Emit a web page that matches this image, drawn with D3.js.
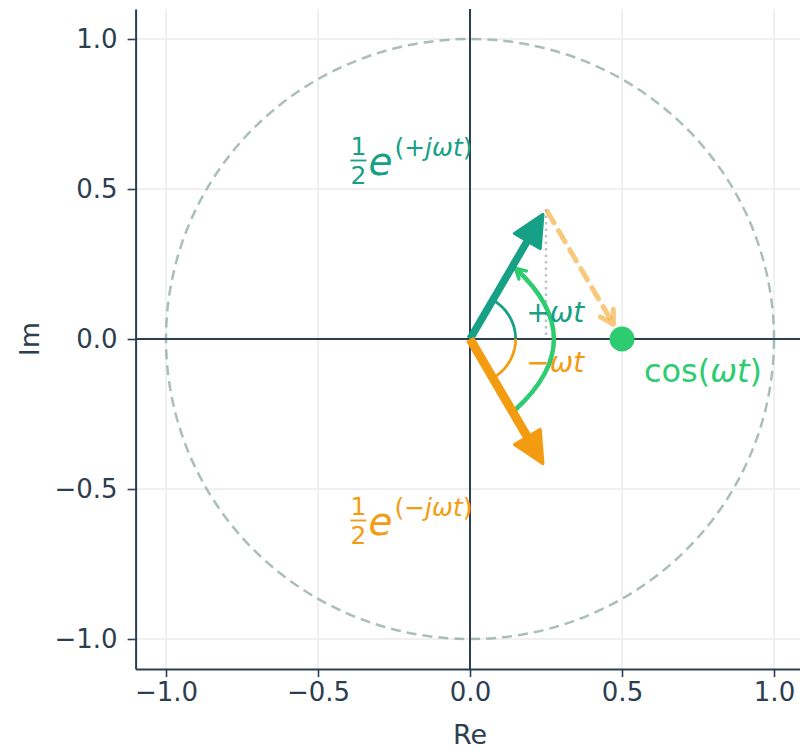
<!DOCTYPE html>
<html>
<head>
<meta charset="utf-8">
<script src="https://cdn.jsdelivr.net/npm/d3@7/dist/d3.min.js"></script>
<style>
  html, body { margin: 0; padding: 0; background: #ffffff; }
  svg { display: block; }
  text { font-family: "DejaVu Sans", sans-serif; }
</style>
</head>
<body>
<script>
// ---- data -------------------------------------------------------------
const xTicks = [-1.0, -0.5, 0.0, 0.5, 1.0];
const yTicks = [-1.0, -0.5, 0.0, 0.5, 1.0];
const axisLimits = [-1.1, 1.1];
const unitRadius = 1.0;

// counter-rotating phasors 1/2 e^{±jωt} at ωt = 60°
const phasorPlus = [0.25, 0.433];
const phasorMinus = [0.25, -0.433];
const sumPoint = [0.5, 0.0];              // cos(ωt) = 0.5
const angleArcRadius = 0.15;
const angleDeg = 60;

// sweep from −ωt to +ωt (quadratic curve: start, control, end)
const sweepStart = [0.15, -0.235];
const sweepCtrl = [0.402, 0.0];
const sweepEnd = [0.15, 0.235];

const labelPlusPos = [-0.4, 0.6];
const labelMinusPos = [-0.4, -0.6];
const omegaPlusPos = [0.185, 0.09];
const omegaMinusPos = [0.185, -0.075];
const cosLabelPos = [0.572, -0.107];

const colors = {
  teal: "#16a085", orange: "#f39c12", green: "#2ecc71",
  ink: "#2c3e50", grid: "#ebebeb", circle: "#95a5a6"
};

// ---- layout -----------------------------------------------------------
const W = 800, H = 750;
const x = d3.scaleLinear().domain(axisLimits).range([135.6, 804.4]);
const y = d3.scaleLinear().domain(axisLimits).range([669, 9]);

const svg = d3.select("body").append("svg").attr("width", W).attr("height", H);

// grid
const grid = svg.append("g");
grid.selectAll(".gx").data(xTicks).join("line")
  .attr("x1", d => x(d)).attr("x2", d => x(d))
  .attr("y1", y(axisLimits[1])).attr("y2", y(axisLimits[0]))
  .attr("stroke", colors.grid).attr("stroke-width", 1.5);
grid.selectAll(".gy").data(yTicks).join("line")
  .attr("y1", d => y(d)).attr("y2", d => y(d))
  .attr("x1", x(axisLimits[0])).attr("x2", x(axisLimits[1]))
  .attr("stroke", colors.grid).attr("stroke-width", 1.5);

// unit circle
svg.append("ellipse")
  .attr("cx", x(0)).attr("cy", y(0))
  .attr("rx", x(unitRadius) - x(0)).attr("ry", y(0) - y(unitRadius))
  .attr("fill", "none").attr("stroke", "#8fa8a3").attr("stroke-opacity", 0.75)
  .attr("stroke-width", 2.5).attr("stroke-dasharray", "10,6");

// real / imaginary axes through the origin
svg.append("line").attr("x1", x(axisLimits[0])).attr("x2", x(axisLimits[1]))
  .attr("y1", y(0)).attr("y2", y(0)).attr("stroke", colors.ink).attr("stroke-width", 2);
svg.append("line").attr("y1", y(axisLimits[0])).attr("y2", y(axisLimits[1]))
  .attr("x1", x(0)).attr("x2", x(0)).attr("stroke", colors.ink).attr("stroke-width", 2);

// axes (left + bottom spines)
const fmt = d3.format(".1f");
const gx = svg.append("g").attr("transform", `translate(0,${y(axisLimits[0])})`)
  .call(d3.axisBottom(x).tickValues(xTicks).tickFormat(fmt).tickSize(8).tickPadding(6).tickSizeOuter(0));
const gy = svg.append("g").attr("transform", `translate(${x(axisLimits[0])},0)`)
  .call(d3.axisLeft(y).tickValues(yTicks).tickFormat(fmt).tickSize(8).tickPadding(10).tickSizeOuter(0));
[gx, gy].forEach(g => {
  g.select(".domain").attr("stroke", colors.ink).attr("stroke-width", 2);
  g.selectAll(".tick line").attr("stroke", colors.ink).attr("stroke-width", 1.6);
  g.selectAll(".tick text").attr("fill", colors.ink).attr("font-size", 26)
    .style("font-family", "DejaVu Sans, sans-serif");
});

svg.append("text").attr("x", x(0)).attr("y", 744).attr("text-anchor", "middle")
  .attr("font-size", 27).attr("fill", colors.ink).text("Re");
svg.append("text").attr("transform", `translate(39,${y(0)}) rotate(-90)`)
  .attr("text-anchor", "middle").attr("font-size", 27).attr("fill", colors.ink).text("Im");

// ---- helpers ----------------------------------------------------------
function P(d) { return [x(d[0]), y(d[1])]; }
function unit(a, b) {
  const dx = b[0] - a[0], dy = b[1] - a[1], L = Math.hypot(dx, dy);
  return [dx / L, dy / L, L];
}
function chevron(g, tip, dir, len, color, width, opacity) {
  const back = [-dir[0], -dir[1]];
  const arms = [30, -30].map(a => {
    const r = a * Math.PI / 180, c = Math.cos(r), s = Math.sin(r);
    return [tip[0] + len * (back[0] * c - back[1] * s), tip[1] + len * (back[0] * s + back[1] * c)];
  });
  g.append("path").attr("d", `M${arms[0]}L${tip}L${arms[1]}`)
    .attr("fill", "none").attr("stroke", color).attr("stroke-width", width)
    .attr("stroke-linecap", "round").attr("stroke-linejoin", "round")
    .attr("stroke-opacity", opacity);
}
function bigArrow(g, from, to, color, shaftW) {
  const a = P(from), b = P(to);
  const [ux, uy] = unit(a, b);
  const tip = [b[0] - 6 * ux, b[1] - 6 * uy];
  const headL = 31, headW = 30;
  const base = [tip[0] - headL * ux, tip[1] - headL * uy];
  const px = -uy, py = ux;
  g.append("line").attr("x1", a[0]).attr("y1", a[1])
    .attr("x2", base[0] + 3 * ux).attr("y2", base[1] + 3 * uy)
    .attr("stroke", color).attr("stroke-width", shaftW).attr("stroke-linecap", "butt");
  const c1 = [base[0] + px * headW / 2, base[1] + py * headW / 2];
  const c2 = [base[0] - px * headW / 2, base[1] - py * headW / 2];
  g.append("path").attr("d", `M${tip}L${c1}L${c2}Z`)
    .attr("fill", color).attr("stroke", color).attr("stroke-width", 3)
    .attr("stroke-linejoin", "round");
}
function angleArc(g, fromDeg, toDeg, r, color) {
  const pts = d3.range(0, 41).map(i => {
    const t = (fromDeg + (toDeg - fromDeg) * i / 40) * Math.PI / 180;
    return [x(r * Math.cos(t)), y(r * Math.sin(t))];
  });
  g.append("path").attr("d", d3.line()(pts)).attr("fill", "none")
    .attr("stroke", color).attr("stroke-width", 2.8);
}

const marks = svg.append("g");

// projection of the + phasor onto the real axis
marks.append("line")
  .attr("x1", x(phasorPlus[0])).attr("y1", y(phasorPlus[1]))
  .attr("x2", x(phasorPlus[0])).attr("y2", y(0))
  .attr("stroke", "#bdc3c7").attr("stroke-width", 2.5).attr("stroke-dasharray", "2.5,4");

// dashed arrow: tip of + phasor to the real-valued sum
{
  const a = P(phasorPlus), b = P(sumPoint);
  const [ux, uy] = unit(a, b);
  const s = [a[0] + 3 * ux, a[1] + 3 * uy];
  const e = [b[0] - 17 * ux, b[1] - 17 * uy];
  marks.append("line").attr("x1", s[0]).attr("y1", s[1]).attr("x2", e[0]).attr("y2", e[1])
    .attr("stroke", colors.orange).attr("stroke-opacity", 0.55).attr("stroke-width", 5)
    .attr("stroke-dasharray", "13,9").attr("stroke-linecap", "round");
  chevron(marks, e, [ux, uy], 15, colors.orange, 5, 0.55);
}

// angle arcs ±ωt
angleArc(marks, 0, angleDeg, angleArcRadius, colors.teal);
angleArc(marks, 0, -angleDeg, angleArcRadius, colors.orange);

// green sweep from −ωt to +ωt
{
  const s = P(sweepStart), c = P(sweepCtrl), e = P(sweepEnd);
  marks.append("path").attr("d", `M${s}Q${c} ${e}`).attr("fill", "none")
    .attr("stroke", colors.green).attr("stroke-width", 4.5);
  const [ux, uy] = unit(c, e);
  chevron(marks, e, [ux, uy], 11, colors.green, 3.5, 1);
}

// the two phasors
bigArrow(marks, [0, 0], phasorPlus, colors.teal, 7.5);
bigArrow(marks, [0, 0], phasorMinus, colors.orange, 9);

// sum on the real axis
marks.append("circle").attr("cx", x(sumPoint[0])).attr("cy", y(sumPoint[1]))
  .attr("r", 12.5).attr("fill", colors.green);

// ---- labels -----------------------------------------------------------
function phasorLabel(pos, sign, color) {
  const [ax, ay] = P(pos);
  const g = svg.append("g").attr("fill", color);
  const fx = ax + 10;
  g.append("text").attr("x", fx).attr("y", ay - 4).attr("text-anchor", "middle")
    .attr("font-size", 25).text("1");
  g.append("line").attr("x1", fx - 8).attr("x2", fx + 8).attr("y1", ay + 1.5).attr("y2", ay + 1.5)
    .attr("stroke", color).attr("stroke-width", 1.8);
  g.append("text").attr("x", fx).attr("y", ay + 25).attr("text-anchor", "middle")
    .attr("font-size", 25).text("2");
  g.append("text").attr("x", ax + 20).attr("y", ay + 16).attr("font-size", 39)
    .attr("font-style", "italic").text("e");
  const sup = g.append("text").attr("x", ax + 46).attr("y", ay - 3).attr("font-size", 25);
  sup.append("tspan").text("(" + sign);
  sup.append("tspan").attr("font-style", "italic").text("jωt");
  sup.append("tspan").text(")");
}
phasorLabel(labelPlusPos, "+", colors.teal);
phasorLabel(labelMinusPos, "\u2212", colors.orange);

function omegaLabel(pos, sign, color) {
  const t = svg.append("text").attr("x", x(pos[0])).attr("y", y(pos[1]))
    .attr("dominant-baseline", "central").attr("font-size", 28).attr("fill", color);
  t.append("tspan").text(sign);
  t.append("tspan").attr("font-style", "italic").text("ωt");
}
omegaLabel(omegaPlusPos, "+", colors.teal);
omegaLabel(omegaMinusPos, "\u2212", colors.orange);

{
  const t = svg.append("text").attr("x", x(cosLabelPos[0])).attr("y", y(cosLabelPos[1]))
    .attr("dominant-baseline", "central").attr("font-size", 32).attr("fill", colors.green);
  t.append("tspan").text("cos(");
  t.append("tspan").attr("font-style", "italic").text("ωt");
  t.append("tspan").text(")");
}
</script>
</body>
</html>
